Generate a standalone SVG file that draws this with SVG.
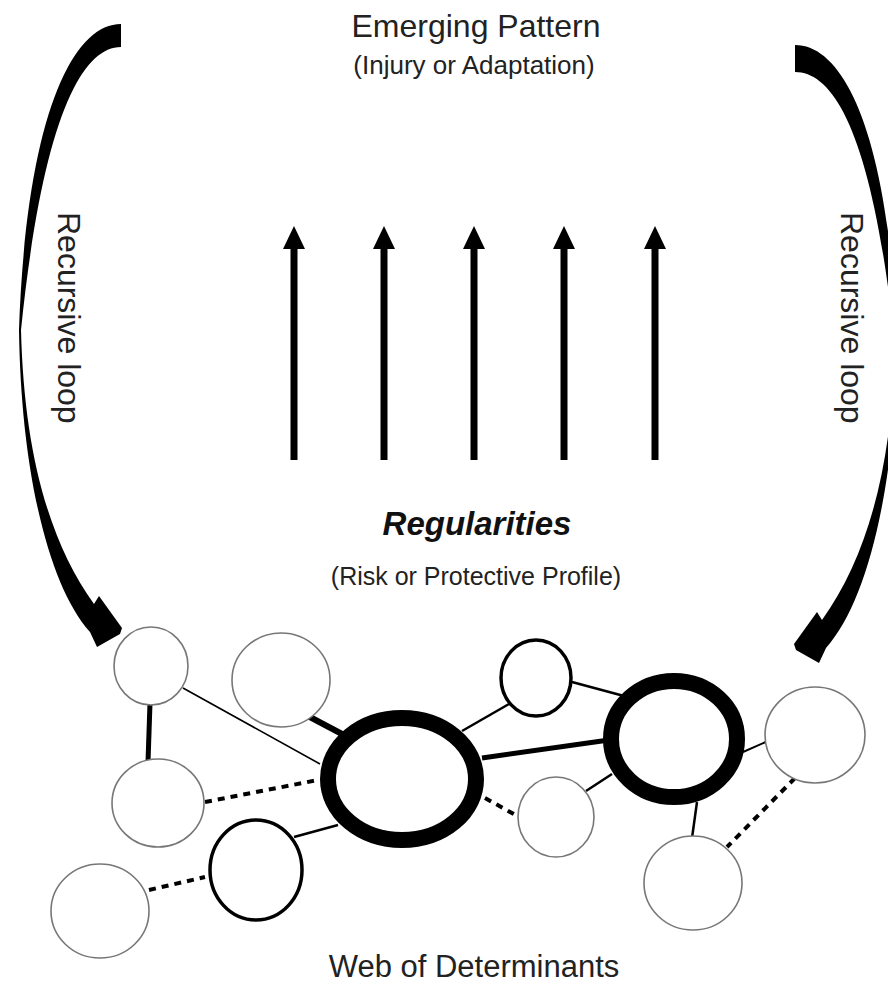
<svg xmlns="http://www.w3.org/2000/svg" width="888" height="986" viewBox="0 0 888 986">
<defs>
<style>
.t{font-family:"Liberation Sans",Arial,sans-serif;fill:#222;text-anchor:middle}
.thin{fill:#fff;stroke:#777;stroke-width:1.6}
.mid{fill:#fff;stroke:#000;stroke-width:3.5}
.big{fill:#fff;stroke:#000;stroke-width:16}
.ln{stroke:#000;fill:none}
.dash{stroke:#000;stroke-width:4;stroke-dasharray:7 6;fill:none}
.up{stroke:#000;stroke-width:7}
</style>
<g id="uparrow"><line class="up" x1="0" y1="460" x2="0" y2="246"/><polygon points="0,226 -11,249 11,249" fill="#000"/></g>
</defs>
<rect width="888" height="986" fill="#fff"/>
<g id="labels">
<text class="t" x="476" y="37" font-size="32">Emerging Pattern</text>
<text class="t" x="474" y="74" font-size="26">(Injury or Adaptation)</text>
<text class="t" x="477" y="535" font-size="33" font-weight="bold" font-style="italic" style="fill:#111">Regularities</text>
<text class="t" x="476" y="585" font-size="25">(Risk or Protective Profile)</text>
<text class="t" x="474" y="977" font-size="31">Web of Determinants</text>
<text class="t" font-size="32" style="text-anchor:start" transform="translate(58,212) rotate(90)">Recursive loop</text>
<text class="t" font-size="32" style="text-anchor:start" transform="translate(841,212) rotate(90)">Recursive loop</text>
</g>
<g id="loops">
<path id="loop-left" fill="#000" d="M121,24 L121,47 C80,47 42,125 21,330 C24,450 48,540 94,604 L99,596 L122,628 L120,634 L97,647 L90,632 C48,585 21,470 19,330 C26,125 70,24 121,24 Z"/>
<path id="loop-right" fill="#000" d="M795,45 L795,72 C836,72 874,141 895,346 C892,466 868,556 822,620 L817,612 L794,644 L796,650 L819,663 L826,648 C868,601 895,486 897,346 C890,141 846,45 795,45 Z"/>
</g>
<g id="regularity-arrows">
<use href="#uparrow" x="294"/>
<use href="#uparrow" x="384"/>
<use href="#uparrow" x="474"/>
<use href="#uparrow" x="564"/>
<use href="#uparrow" x="655"/>
</g>
<g id="connectors">
<line class="ln" x1="150" y1="703" x2="148" y2="762" stroke-width="5"/>
<line class="ln" x1="183" y1="688" x2="320" y2="764" stroke-width="1.6"/>
<line class="ln" x1="308" y1="716" x2="342" y2="734" stroke-width="6"/>
<line class="dash" x1="205" y1="802" x2="318" y2="780"/>
<line class="ln" x1="294" y1="837" x2="338" y2="825" stroke-width="2.5"/>
<line class="dash" x1="149" y1="890" x2="205" y2="877"/>
<line class="ln" x1="462" y1="731" x2="509" y2="704" stroke-width="2.5"/>
<line class="ln" x1="572" y1="682" x2="624" y2="696" stroke-width="2.5"/>
<line class="ln" x1="482" y1="758" x2="609" y2="740" stroke-width="5"/>
<line class="dash" x1="485" y1="798" x2="519" y2="817"/>
<line class="ln" x1="586" y1="791" x2="612" y2="774" stroke-width="2.5"/>
<line class="ln" x1="743" y1="752" x2="768" y2="741" stroke-width="2"/>
<line class="ln" x1="697" y1="802" x2="692" y2="838" stroke-width="2.5"/>
<line class="dash" x1="795" y1="778" x2="727" y2="847"/>
</g>
<g id="n1"><ellipse class="thin" cx="151" cy="666" rx="37" ry="39"/></g>
<g id="n2"><ellipse class="thin" cx="281" cy="680" rx="49" ry="47"/></g>
<g id="n3"><ellipse class="thin" cx="158" cy="803" rx="46" ry="44"/></g>
<g id="n4"><ellipse class="mid" cx="256" cy="870" rx="46" ry="50"/></g>
<g id="n5"><ellipse class="thin" cx="100" cy="911" rx="49" ry="47"/></g>
<g id="n6"><ellipse class="big" cx="402" cy="779" rx="74" ry="61"/></g>
<g id="n7"><ellipse class="mid" cx="536" cy="678" rx="35" ry="38"/></g>
<g id="n8"><ellipse class="big" cx="674" cy="739" rx="63" ry="58" stroke-width="15"/></g>
<g id="n9"><ellipse class="thin" cx="815" cy="735" rx="50" ry="48"/></g>
<g id="n10"><ellipse class="thin" cx="556" cy="817" rx="38" ry="40"/></g>
<g id="n11"><ellipse class="thin" cx="693" cy="883" rx="49" ry="47"/></g>
</svg>
